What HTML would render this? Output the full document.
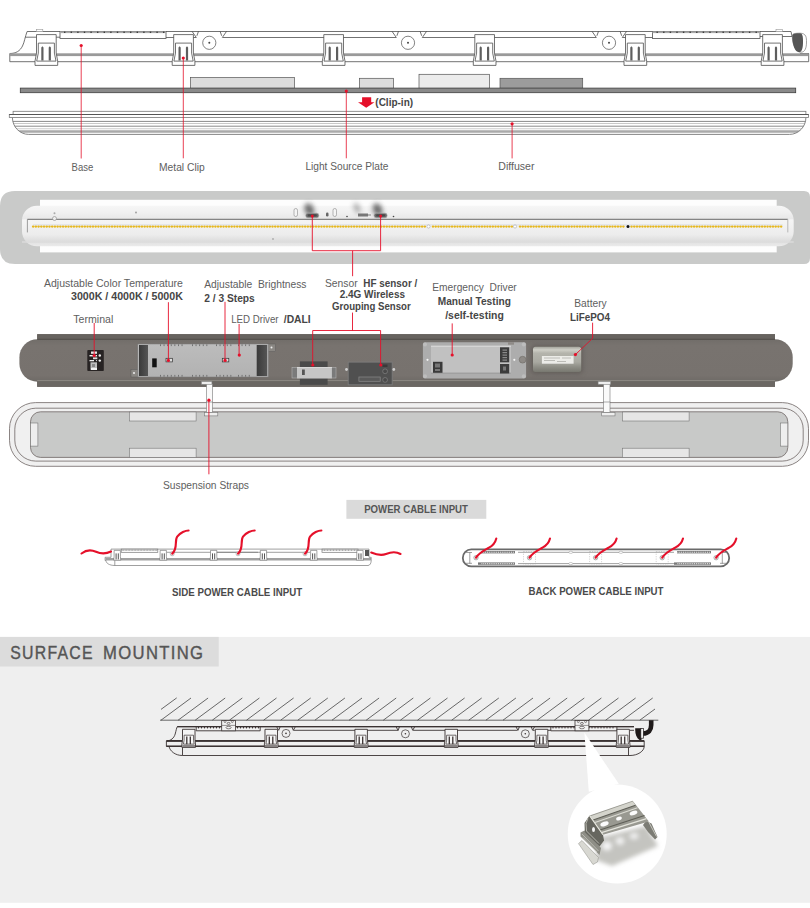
<!DOCTYPE html>
<html><head><meta charset="utf-8"><style>
html,body{margin:0;padding:0;background:#fff;}
body{width:810px;height:908px;overflow:hidden;position:relative;}
svg{position:absolute;left:0;top:0;display:block;}
text{font-family:"Liberation Sans",sans-serif;white-space:pre;}
</style></head><body>
<svg width="810" height="908" viewBox="0 0 810 908">
<g fill="none" stroke="#4e4e4e" stroke-width="0.8">
<path d="M9.8,53.5 C16,53.5 20,51 22.5,46 C24.5,42 25,37 27.1,31.5 H791 L792,36.2"/>
<line x1="25.4" y1="37.2" x2="60" y2="37.2"/>
<path d="M9.8,53.5 V61.7 H808.7 V53.5 H800"/>
</g>
<rect x="10" y="53.3" width="798" height="2.8" fill="#9a9a9a"/>
<rect x="60" y="31.5" width="106" height="7" fill="#fff" stroke="#4e4e4e" stroke-width="0.8"/>
<rect x="60" y="31.3" width="106" height="1.8" fill="#a8a8a8"/>
<rect x="64.0" y="31.6" width="1.4" height="1.3" fill="#333"/>
<rect x="70.6" y="31.6" width="1.4" height="1.3" fill="#333"/>
<rect x="77.2" y="31.6" width="1.4" height="1.3" fill="#333"/>
<rect x="83.8" y="31.6" width="1.4" height="1.3" fill="#333"/>
<rect x="90.4" y="31.6" width="1.4" height="1.3" fill="#333"/>
<rect x="97.0" y="31.6" width="1.4" height="1.3" fill="#333"/>
<rect x="103.6" y="31.6" width="1.4" height="1.3" fill="#333"/>
<rect x="110.2" y="31.6" width="1.4" height="1.3" fill="#333"/>
<rect x="116.8" y="31.6" width="1.4" height="1.3" fill="#333"/>
<rect x="123.4" y="31.6" width="1.4" height="1.3" fill="#333"/>
<rect x="130.0" y="31.6" width="1.4" height="1.3" fill="#333"/>
<rect x="136.6" y="31.6" width="1.4" height="1.3" fill="#333"/>
<rect x="143.2" y="31.6" width="1.4" height="1.3" fill="#333"/>
<rect x="149.8" y="31.6" width="1.4" height="1.3" fill="#333"/>
<rect x="156.4" y="31.6" width="1.4" height="1.3" fill="#333"/>
<rect x="163.0" y="31.6" width="1.4" height="1.3" fill="#333"/>
<rect x="652.5" y="31.5" width="107.5" height="7" fill="#fff" stroke="#4e4e4e" stroke-width="0.8"/>
<rect x="652.5" y="31.3" width="107.5" height="1.8" fill="#a8a8a8"/>
<rect x="656.5" y="31.6" width="1.4" height="1.3" fill="#333"/>
<rect x="663.1" y="31.6" width="1.4" height="1.3" fill="#333"/>
<rect x="669.7" y="31.6" width="1.4" height="1.3" fill="#333"/>
<rect x="676.3" y="31.6" width="1.4" height="1.3" fill="#333"/>
<rect x="682.9" y="31.6" width="1.4" height="1.3" fill="#333"/>
<rect x="689.5" y="31.6" width="1.4" height="1.3" fill="#333"/>
<rect x="696.1" y="31.6" width="1.4" height="1.3" fill="#333"/>
<rect x="702.7" y="31.6" width="1.4" height="1.3" fill="#333"/>
<rect x="709.3" y="31.6" width="1.4" height="1.3" fill="#333"/>
<rect x="715.9" y="31.6" width="1.4" height="1.3" fill="#333"/>
<rect x="722.5" y="31.6" width="1.4" height="1.3" fill="#333"/>
<rect x="729.1" y="31.6" width="1.4" height="1.3" fill="#333"/>
<rect x="735.7" y="31.6" width="1.4" height="1.3" fill="#333"/>
<rect x="742.3" y="31.6" width="1.4" height="1.3" fill="#333"/>
<rect x="748.9" y="31.6" width="1.4" height="1.3" fill="#333"/>
<rect x="755.5" y="31.6" width="1.4" height="1.3" fill="#333"/>
<g fill="none" stroke="#4e4e4e" stroke-width="0.8">
<path d="M166,37.5 H196.3 M222.5,37.5 H396.3 M422.3,37.5 H596.3 M622.3,37.5 H652.5 M760,36.5 H792"/>
<path d="M192.0,31.3 L196.3,37.5 M198.5,31.3 L196.9,35.8 M226.6,31.3 L222.3,37.5 M220.1,31.3 L221.7,35.8"/>
<path d="M392.0,31.3 L396.3,37.5 M398.5,31.3 L396.9,35.8 M426.6,31.3 L422.3,37.5 M420.1,31.3 L421.7,35.8"/>
<path d="M592.0,31.3 L596.3,37.5 M598.5,31.3 L596.9,35.8 M626.6,31.3 L622.3,37.5 M620.1,31.3 L621.7,35.8"/>
</g>
<circle cx="209.3" cy="42.8" r="6.6" fill="#fff" stroke="#4e4e4e" stroke-width="0.7"/><circle cx="209.3" cy="42.8" r="1" fill="#444"/>
<circle cx="408" cy="42.8" r="6.6" fill="#fff" stroke="#4e4e4e" stroke-width="0.7"/><circle cx="408" cy="42.8" r="1" fill="#444"/>
<circle cx="609" cy="42.8" r="6.6" fill="#fff" stroke="#4e4e4e" stroke-width="0.7"/><circle cx="609" cy="42.8" r="1" fill="#444"/>
<rect x="36.5" y="29.6" width="6.3" height="2" fill="#fff" stroke="#999" stroke-width="0.6"/>
<rect x="776" y="29.6" width="6.3" height="2" fill="#fff" stroke="#999" stroke-width="0.6"/>
<path d="M792.3,36 C792.3,33.5 795,33.2 800,33.2 C806.5,33.2 806.5,38 806.5,42 C806.5,48 805,52.2 801,52.2 C796,52.2 792.3,45 792.3,36 Z" fill="#fff" stroke="#777" stroke-width="0.7"/>
<path d="M792.3,36 C792.3,33.5 795,33.2 800,33.2 C803,33.2 803,38 803,42 C803,48 802,52.2 799,52.2 C795,52.2 792.3,45 792.3,36 Z" fill="#555"/>
<g transform="translate(35,34.6) scale(1.0)">
<path d="M1.5,0 H21.2 V18.5 L22.7,26.5 V30.8 H0 V26.5 L1.5,18.5 Z" fill="#fff" stroke="#4e4e4e" stroke-width="0.8"/>
<path d="M3.3,8.5 H19.4 V18.5 L21,26.5 H1.7 L3.3,18.5 Z" fill="#fff" stroke="#4e4e4e" stroke-width="0.8"/>
<path d="M6.3,13 L7.4,11.6 L8.5,13 V26 H6.3 Z M13.7,13 L14.8,11.6 L15.9,13 V26 H13.7 Z" fill="#5e5e5e"/>
</g>
<g transform="translate(172.2,34.6) scale(1.0)">
<path d="M1.5,0 H21.2 V18.5 L22.7,26.5 V30.8 H0 V26.5 L1.5,18.5 Z" fill="#fff" stroke="#4e4e4e" stroke-width="0.8"/>
<path d="M3.3,8.5 H19.4 V18.5 L21,26.5 H1.7 L3.3,18.5 Z" fill="#fff" stroke="#4e4e4e" stroke-width="0.8"/>
<path d="M6.3,13 L7.4,11.6 L8.5,13 V26 H6.3 Z M13.7,13 L14.8,11.6 L15.9,13 V26 H13.7 Z" fill="#5e5e5e"/>
</g>
<g transform="translate(322.3,34.6) scale(1.0)">
<path d="M1.5,0 H21.2 V18.5 L22.7,26.5 V30.8 H0 V26.5 L1.5,18.5 Z" fill="#fff" stroke="#4e4e4e" stroke-width="0.8"/>
<path d="M3.3,8.5 H19.4 V18.5 L21,26.5 H1.7 L3.3,18.5 Z" fill="#fff" stroke="#4e4e4e" stroke-width="0.8"/>
<path d="M6.3,13 L7.4,11.6 L8.5,13 V26 H6.3 Z M13.7,13 L14.8,11.6 L15.9,13 V26 H13.7 Z" fill="#5e5e5e"/>
</g>
<g transform="translate(473.3,34.6) scale(1.0)">
<path d="M1.5,0 H21.2 V18.5 L22.7,26.5 V30.8 H0 V26.5 L1.5,18.5 Z" fill="#fff" stroke="#4e4e4e" stroke-width="0.8"/>
<path d="M3.3,8.5 H19.4 V18.5 L21,26.5 H1.7 L3.3,18.5 Z" fill="#fff" stroke="#4e4e4e" stroke-width="0.8"/>
<path d="M6.3,13 L7.4,11.6 L8.5,13 V26 H6.3 Z M13.7,13 L14.8,11.6 L15.9,13 V26 H13.7 Z" fill="#5e5e5e"/>
</g>
<g transform="translate(624,34.6) scale(1.0)">
<path d="M1.5,0 H21.2 V18.5 L22.7,26.5 V30.8 H0 V26.5 L1.5,18.5 Z" fill="#fff" stroke="#4e4e4e" stroke-width="0.8"/>
<path d="M3.3,8.5 H19.4 V18.5 L21,26.5 H1.7 L3.3,18.5 Z" fill="#fff" stroke="#4e4e4e" stroke-width="0.8"/>
<path d="M6.3,13 L7.4,11.6 L8.5,13 V26 H6.3 Z M13.7,13 L14.8,11.6 L15.9,13 V26 H13.7 Z" fill="#5e5e5e"/>
</g>
<g transform="translate(761.2,34.6) scale(1.0)">
<path d="M1.5,0 H21.2 V18.5 L22.7,26.5 V30.8 H0 V26.5 L1.5,18.5 Z" fill="#fff" stroke="#4e4e4e" stroke-width="0.8"/>
<path d="M3.3,8.5 H19.4 V18.5 L21,26.5 H1.7 L3.3,18.5 Z" fill="#fff" stroke="#4e4e4e" stroke-width="0.8"/>
<path d="M6.3,13 L7.4,11.6 L8.5,13 V26 H6.3 Z M13.7,13 L14.8,11.6 L15.9,13 V26 H13.7 Z" fill="#5e5e5e"/>
</g>
<rect x="190.5" y="77.5" width="103.9" height="10.8" fill="#dcdcdc" stroke="#555" stroke-width="0.7"/>
<rect x="359.4" y="78.3" width="34.1" height="10" fill="#dcdcdc" stroke="#555" stroke-width="0.7"/>
<rect x="419" y="74.3" width="70.4" height="14" fill="#ececec" stroke="#555" stroke-width="0.7"/>
<rect x="500" y="78.3" width="82.7" height="10" fill="#9c9c9c" stroke="#555" stroke-width="0.7"/>
<rect x="20.3" y="88.1" width="775.4" height="4.6" fill="#8a8a8a" stroke="#3e3e3e" stroke-width="0.8"/>
<defs><clipPath id="dfc"><path d="M12.4,117.5 A16.3,16.9 0 0 0 28.7,134.4 H789.5 A16.4,16.9 0 0 0 805.9,117.5 Z"/></clipPath></defs>
<rect x="13.1" y="111.3" width="792.8" height="3.2" fill="#fff" stroke="#777" stroke-width="0.8"/>
<g clip-path="url(#dfc)">
<line x1="10" y1="121.4" x2="808" y2="121.4" stroke="#7a7a7a" stroke-width="0.9"/>
<line x1="10" y1="123.5" x2="808" y2="123.5" stroke="#c8c8c8" stroke-width="1.1"/>
<line x1="10" y1="126.2" x2="808" y2="126.2" stroke="#7a7a7a" stroke-width="0.9"/>
<line x1="10" y1="128.7" x2="808" y2="128.7" stroke="#cccccc" stroke-width="1.1"/>
<line x1="10" y1="131.5" x2="808" y2="131.5" stroke="#a9a9a9" stroke-width="2.4"/>
</g>
<path d="M12.4,117.5 A16.3,16.9 0 0 0 28.7,134.4 H789.5 A16.4,16.9 0 0 0 805.9,117.5" fill="none" stroke="#777" stroke-width="0.9"/>
<rect x="9.3" y="114.5" width="799.2" height="3" fill="#fff" stroke="#777" stroke-width="0.8"/>
<line x1="9.3" y1="114.5" x2="808.5" y2="114.5" stroke="#555" stroke-width="1"/>
<path d="M362.1,97.2 H371.2 V102.2 H374.5 L366.2,107.8 L358,102.2 H362.1 Z" fill="#e5102a"/>
<line x1="81.2" y1="45.5" x2="81.2" y2="158.5" stroke="#e5102a" stroke-width="0.8"/><circle cx="81.2" cy="45.5" r="1.6" fill="#e5102a"/>
<line x1="183.3" y1="58" x2="183.3" y2="158.3" stroke="#e5102a" stroke-width="0.8"/><circle cx="183.3" cy="58" r="1.6" fill="#e5102a"/>
<line x1="346.3" y1="91.1" x2="346.3" y2="158.3" stroke="#e5102a" stroke-width="0.8"/><circle cx="346.3" cy="91.1" r="1.6" fill="#e5102a"/>
<line x1="512.1" y1="123.8" x2="512.1" y2="158.4" stroke="#e5102a" stroke-width="0.8"/><circle cx="512.1" cy="123.8" r="1.6" fill="#e5102a"/>
<defs><linearGradient id="wb" x1="0" y1="0" x2="0" y2="1"><stop offset="0" stop-color="#f6f6f6"/><stop offset="0.15" stop-color="#f1f1f1"/><stop offset="0.32" stop-color="#e8e8e8"/><stop offset="0.35" stop-color="#f5f5f5"/><stop offset="0.72" stop-color="#ececec"/><stop offset="0.86" stop-color="#dedede"/><stop offset="1" stop-color="#ebebeb"/></linearGradient><radialGradient id="smudge"><stop offset="0" stop-color="#333" stop-opacity="0.85"/><stop offset="1" stop-color="#666" stop-opacity="0"/></radialGradient><linearGradient id="hous" x1="0" y1="0" x2="0" y2="1"><stop offset="0" stop-color="#716d69"/><stop offset="0.15" stop-color="#78736f"/><stop offset="0.85" stop-color="#77726e"/><stop offset="1" stop-color="#6e6a66"/></linearGradient><linearGradient id="batt" x1="0" y1="0" x2="0" y2="1"><stop offset="0" stop-color="#a4a49c"/><stop offset="0.12" stop-color="#cfcfc7"/><stop offset="0.25" stop-color="#b4b4ac"/><stop offset="0.6" stop-color="#a9a9a1"/><stop offset="0.8" stop-color="#8e8e86"/><stop offset="1" stop-color="#77776f"/></linearGradient><linearGradient id="drv" x1="0" y1="0" x2="0" y2="1"><stop offset="0" stop-color="#bcbcbc"/><stop offset="1" stop-color="#b2b2b2"/></linearGradient></defs>
<path d="M15,191 H804 Q810,191 810,197 V258 Q810,264 804,264 H15 Q0,264 0,249 V206 Q0,191 15,191 Z" fill="#c9cac9"/>
<rect x="40" y="199.8" width="736.7" height="52.6" fill="#fdfdfd"/>
<rect x="22" y="205.7" width="771.7" height="40.6" rx="15" ry="15" fill="url(#wb)"/>
<rect x="22" y="241" width="771.7" height="2" fill="#dcdcdc" opacity="0.7"/>
<line x1="27.4" y1="219.3" x2="787.8" y2="219.3" stroke="#6a6a6a" stroke-width="1"/>
<line x1="27.4" y1="219.3" x2="27.4" y2="232.4" stroke="#888" stroke-width="0.8"/>
<line x1="787.8" y1="219.3" x2="787.8" y2="232.4" stroke="#aaa" stroke-width="0.8"/>
<line x1="33" y1="224.9" x2="782.6" y2="224.9" stroke="#b9c0cc" stroke-width="0.6" opacity="0.7"/>
<path d="M33.00,226.6h0.3M35.72,226.6h0.3M38.44,226.6h0.3M41.16,226.6h0.3M43.88,226.6h0.3M46.60,226.6h0.3M49.32,226.6h0.3M52.04,226.6h0.3M54.76,226.6h0.3M57.48,226.6h0.3M60.20,226.6h0.3M62.92,226.6h0.3M65.64,226.6h0.3M68.36,226.6h0.3M71.08,226.6h0.3M73.80,226.6h0.3M76.52,226.6h0.3M79.24,226.6h0.3M81.96,226.6h0.3M84.68,226.6h0.3M87.40,226.6h0.3M90.12,226.6h0.3M92.84,226.6h0.3M95.56,226.6h0.3M98.28,226.6h0.3M101.00,226.6h0.3M103.72,226.6h0.3M106.44,226.6h0.3M109.16,226.6h0.3M111.88,226.6h0.3M114.60,226.6h0.3M117.32,226.6h0.3M120.04,226.6h0.3M122.76,226.6h0.3M125.48,226.6h0.3M128.20,226.6h0.3M130.92,226.6h0.3M133.64,226.6h0.3M136.36,226.6h0.3M139.08,226.6h0.3M141.80,226.6h0.3M144.52,226.6h0.3M147.24,226.6h0.3M149.96,226.6h0.3M152.68,226.6h0.3M155.40,226.6h0.3M158.12,226.6h0.3M160.84,226.6h0.3M163.56,226.6h0.3M166.28,226.6h0.3M169.00,226.6h0.3M171.72,226.6h0.3M174.44,226.6h0.3M177.16,226.6h0.3M179.88,226.6h0.3M182.60,226.6h0.3M185.32,226.6h0.3M188.04,226.6h0.3M190.76,226.6h0.3M193.48,226.6h0.3M196.20,226.6h0.3M198.92,226.6h0.3M201.64,226.6h0.3M204.36,226.6h0.3M207.08,226.6h0.3M209.80,226.6h0.3M212.52,226.6h0.3M215.24,226.6h0.3M217.96,226.6h0.3M220.68,226.6h0.3M223.40,226.6h0.3M226.12,226.6h0.3M228.84,226.6h0.3M231.56,226.6h0.3M234.28,226.6h0.3M237.00,226.6h0.3M239.72,226.6h0.3M242.44,226.6h0.3M245.16,226.6h0.3M247.88,226.6h0.3M250.60,226.6h0.3M253.32,226.6h0.3M256.04,226.6h0.3M258.76,226.6h0.3M261.48,226.6h0.3M264.20,226.6h0.3M266.92,226.6h0.3M269.64,226.6h0.3M272.36,226.6h0.3M275.08,226.6h0.3M277.80,226.6h0.3M280.52,226.6h0.3M283.24,226.6h0.3M285.96,226.6h0.3M288.68,226.6h0.3M291.40,226.6h0.3M294.12,226.6h0.3M296.84,226.6h0.3M299.56,226.6h0.3M302.28,226.6h0.3M305.00,226.6h0.3M307.72,226.6h0.3M310.44,226.6h0.3M313.16,226.6h0.3M315.88,226.6h0.3M318.60,226.6h0.3M321.32,226.6h0.3M324.04,226.6h0.3M326.76,226.6h0.3M329.48,226.6h0.3M332.20,226.6h0.3M334.92,226.6h0.3M337.64,226.6h0.3M340.36,226.6h0.3M343.08,226.6h0.3M345.80,226.6h0.3M348.52,226.6h0.3M351.24,226.6h0.3M353.96,226.6h0.3M356.68,226.6h0.3M359.40,226.6h0.3M362.12,226.6h0.3M364.84,226.6h0.3M367.56,226.6h0.3M370.28,226.6h0.3M373.00,226.6h0.3M375.72,226.6h0.3M378.44,226.6h0.3M381.16,226.6h0.3M383.88,226.6h0.3M386.60,226.6h0.3M389.32,226.6h0.3M392.04,226.6h0.3M394.76,226.6h0.3M397.48,226.6h0.3M400.20,226.6h0.3M402.92,226.6h0.3M405.64,226.6h0.3M408.36,226.6h0.3M411.08,226.6h0.3M413.80,226.6h0.3M416.52,226.6h0.3M419.24,226.6h0.3M421.96,226.6h0.3M424.68,226.6h0.3M432.84,226.6h0.3M435.56,226.6h0.3M438.28,226.6h0.3M441.00,226.6h0.3M443.72,226.6h0.3M446.44,226.6h0.3M449.16,226.6h0.3M451.88,226.6h0.3M454.60,226.6h0.3M457.32,226.6h0.3M460.04,226.6h0.3M462.76,226.6h0.3M465.48,226.6h0.3M468.20,226.6h0.3M470.92,226.6h0.3M473.64,226.6h0.3M476.36,226.6h0.3M479.08,226.6h0.3M481.80,226.6h0.3M484.52,226.6h0.3M487.24,226.6h0.3M489.96,226.6h0.3M492.68,226.6h0.3M495.40,226.6h0.3M498.12,226.6h0.3M500.84,226.6h0.3M503.56,226.6h0.3M506.28,226.6h0.3M509.00,226.6h0.3M511.72,226.6h0.3M519.88,226.6h0.3M522.60,226.6h0.3M525.32,226.6h0.3M528.04,226.6h0.3M530.76,226.6h0.3M533.48,226.6h0.3M536.20,226.6h0.3M538.92,226.6h0.3M541.64,226.6h0.3M544.36,226.6h0.3M547.08,226.6h0.3M549.80,226.6h0.3M552.52,226.6h0.3M555.24,226.6h0.3M557.96,226.6h0.3M560.68,226.6h0.3M563.40,226.6h0.3M566.12,226.6h0.3M568.84,226.6h0.3M571.56,226.6h0.3M574.28,226.6h0.3M577.00,226.6h0.3M579.72,226.6h0.3M582.44,226.6h0.3M585.16,226.6h0.3M587.88,226.6h0.3M590.60,226.6h0.3M593.32,226.6h0.3M596.04,226.6h0.3M598.76,226.6h0.3M601.48,226.6h0.3M604.20,226.6h0.3M606.92,226.6h0.3M609.64,226.6h0.3M612.36,226.6h0.3M615.08,226.6h0.3M617.80,226.6h0.3M620.52,226.6h0.3M623.24,226.6h0.3M631.40,226.6h0.3M634.12,226.6h0.3M636.84,226.6h0.3M639.56,226.6h0.3M642.28,226.6h0.3M645.00,226.6h0.3M647.72,226.6h0.3M650.44,226.6h0.3M653.16,226.6h0.3M655.88,226.6h0.3M658.60,226.6h0.3M661.32,226.6h0.3M664.04,226.6h0.3M666.76,226.6h0.3M669.48,226.6h0.3M672.20,226.6h0.3M674.92,226.6h0.3M677.64,226.6h0.3M680.36,226.6h0.3M683.08,226.6h0.3M685.80,226.6h0.3M688.52,226.6h0.3M691.24,226.6h0.3M693.96,226.6h0.3M696.68,226.6h0.3M699.40,226.6h0.3M702.12,226.6h0.3M704.84,226.6h0.3M707.56,226.6h0.3M710.28,226.6h0.3M713.00,226.6h0.3M715.72,226.6h0.3M718.44,226.6h0.3M721.16,226.6h0.3M723.88,226.6h0.3M726.60,226.6h0.3M729.32,226.6h0.3M732.04,226.6h0.3M734.76,226.6h0.3M737.48,226.6h0.3M740.20,226.6h0.3M742.92,226.6h0.3M745.64,226.6h0.3M748.36,226.6h0.3M751.08,226.6h0.3M753.80,226.6h0.3M756.52,226.6h0.3M759.24,226.6h0.3M761.96,226.6h0.3M764.68,226.6h0.3M767.40,226.6h0.3M770.12,226.6h0.3M772.84,226.6h0.3M775.56,226.6h0.3M778.28,226.6h0.3M781.00,226.6h0.3" stroke="#e6b820" stroke-width="2.3" stroke-linecap="round"/>
<circle cx="428.5" cy="226.5" r="1.6" fill="#fff" stroke="#999" stroke-width="0.5"/>
<circle cx="515" cy="226.5" r="1.6" fill="#fff" stroke="#999" stroke-width="0.5"/>
<circle cx="628" cy="226.5" r="1.5" fill="#111"/>
<circle cx="54.5" cy="218.5" r="2" fill="#eee" stroke="#888" stroke-width="0.6"/>
<circle cx="54.5" cy="213.3" r="1" fill="#aaa"/>
<circle cx="136" cy="212.5" r="0.9" fill="#999"/><circle cx="273" cy="239" r="0.9" fill="#aaa"/>
<defs><filter id="sb" x="-100%" y="-100%" width="300%" height="300%"><feGaussianBlur stdDeviation="2.6"/></filter></defs>
<ellipse cx="309.3" cy="209.5" rx="4.5" ry="6.5" transform="rotate(-25 309.3 209.5)" fill="#3a3a3a" opacity="0.75" filter="url(#sb)"/>
<rect x="305.8" y="213.2" width="13" height="4.6" rx="2" fill="#6a6a6a" stroke="#aaa" stroke-width="0.6"/>
<rect x="307.8" y="214.2" width="9" height="2.4" rx="1" fill="#4a4a4a"/>
<ellipse cx="377.6" cy="209.5" rx="4.5" ry="6.5" transform="rotate(-25 377.6 209.5)" fill="#3a3a3a" opacity="0.75" filter="url(#sb)"/>
<rect x="374.1" y="213.2" width="13" height="4.6" rx="2" fill="#6a6a6a" stroke="#aaa" stroke-width="0.6"/>
<rect x="376.1" y="214.2" width="9" height="2.4" rx="1" fill="#4a4a4a"/>
<ellipse cx="357" cy="208" rx="3" ry="5.5" transform="rotate(-25 357 208)" fill="#555" opacity="0.45" filter="url(#sb)"/>
<rect x="294" y="208.5" width="3.5" height="8" rx="1.7" fill="#f4f4f4" stroke="#888" stroke-width="0.6"/>
<rect x="333" y="208.5" width="3.5" height="8" rx="1.7" fill="#f4f4f4" stroke="#888" stroke-width="0.6"/>
<rect x="326" y="212.5" width="2.5" height="4" rx="1.2" fill="#666"/>
<rect x="358" y="213.5" width="10" height="3" fill="#777"/><rect x="368" y="214.2" width="3" height="1.6" fill="#aaa"/>
<circle cx="347" cy="216.5" r="0.8" fill="#444"/><circle cx="393.5" cy="216.5" r="0.8" fill="#444"/>
<path d="M312.3,216 V250.7 H380.6 V216 M352.6,250.7 V276.2" fill="none" stroke="#e5102a" stroke-width="0.9"/>
<circle cx="312.3" cy="216" r="1.5" fill="#e5102a"/><circle cx="380.6" cy="216" r="1.5" fill="#e5102a"/>
<rect x="37.2" y="334.2" width="737.8" height="52.6" fill="#66625e"/>
<rect x="19.4" y="339.2" width="773.3" height="42.5" rx="18" ry="18" fill="url(#hous)"/>
<rect x="37.2" y="334.2" width="737.8" height="4.6" fill="#67635f"/>
<line x1="37.2" y1="339.3" x2="775" y2="339.3" stroke="#56524e" stroke-width="1.2"/>
<rect x="37.2" y="380.9" width="737.8" height="5.9" fill="#6b6763"/>
<line x1="37.2" y1="380.6" x2="775" y2="380.6" stroke="#8e8984" stroke-width="1"/>
<rect x="87.3" y="350.1" width="16.5" height="21" fill="#272323" rx="0.8"/>
<rect x="91" y="351.5" width="6" height="2.3" fill="#e6e6e6"/>
<rect x="89.5" y="355" width="7.5" height="1.4" fill="#f2f2f2"/><circle cx="99.8" cy="355.5" r="1.2" fill="#eee"/>
<rect x="93" y="357.4" width="4.3" height="1.8" fill="#ddd"/>
<rect x="89.5" y="360" width="4.5" height="1.3" fill="#eee"/><circle cx="96.5" cy="360.6" r="0.6" fill="#eee"/><circle cx="99.8" cy="360.6" r="1.2" fill="#eee"/>
<rect x="90.5" y="362.3" width="6.5" height="7.5" fill="#bdbdbd"/><rect x="91" y="368" width="6" height="2" fill="#f4f4f4"/><rect x="92" y="364" width="3" height="3" fill="#8a8a8a"/>
<rect x="131" y="369.5" width="8" height="7.5" fill="#8a8783" stroke="#555" stroke-width="0.4"/><circle cx="134" cy="373" r="1" fill="#eee"/>
<rect x="267.5" y="344" width="8" height="7.5" fill="#8a8783" stroke="#555" stroke-width="0.4"/><circle cx="271.5" cy="347.5" r="1" fill="#eee"/>
<rect x="137.8" y="344" width="130.6" height="33" fill="url(#drv)" stroke="#777" stroke-width="0.5"/>
<defs><linearGradient id="cap" x1="0" y1="0" x2="1" y2="0"><stop offset="0" stop-color="#3a3a3a"/><stop offset="1" stop-color="#555"/></linearGradient></defs>
<rect x="139" y="345" width="9" height="31" fill="url(#cap)"/>
<rect x="256.7" y="345" width="10.5" height="31" fill="url(#cap)"/>
<rect x="152.2" y="358.4" width="4.5" height="8.9" fill="#111"/>
<rect x="166" y="358.3" width="6.5" height="3.6" fill="#ddd" stroke="#333" stroke-width="0.7"/><rect x="222.3" y="358.3" width="6.5" height="3.6" fill="#ddd" stroke="#333" stroke-width="0.7"/>
<rect x="160.0" y="344.3" width="0.9" height="1.8" fill="#6a6a6a"/><rect x="160.0" y="374.9" width="0.9" height="1.8" fill="#6a6a6a"/>
<rect x="163.6" y="344.3" width="0.9" height="1.8" fill="#6a6a6a"/><rect x="163.6" y="374.9" width="0.9" height="1.8" fill="#6a6a6a"/>
<rect x="167.2" y="344.3" width="0.9" height="1.8" fill="#6a6a6a"/><rect x="167.2" y="374.9" width="0.9" height="1.8" fill="#6a6a6a"/>
<rect x="170.8" y="344.3" width="0.9" height="1.8" fill="#6a6a6a"/><rect x="170.8" y="374.9" width="0.9" height="1.8" fill="#6a6a6a"/>
<rect x="174.4" y="344.3" width="0.9" height="1.8" fill="#6a6a6a"/><rect x="174.4" y="374.9" width="0.9" height="1.8" fill="#6a6a6a"/>
<rect x="178.0" y="344.3" width="0.9" height="1.8" fill="#6a6a6a"/><rect x="178.0" y="374.9" width="0.9" height="1.8" fill="#6a6a6a"/>
<rect x="181.6" y="344.3" width="0.9" height="1.8" fill="#6a6a6a"/><rect x="181.6" y="374.9" width="0.9" height="1.8" fill="#6a6a6a"/>
<rect x="192.0" y="344.3" width="0.9" height="1.8" fill="#6a6a6a"/><rect x="192.0" y="374.9" width="0.9" height="1.8" fill="#6a6a6a"/>
<rect x="195.6" y="344.3" width="0.9" height="1.8" fill="#6a6a6a"/><rect x="195.6" y="374.9" width="0.9" height="1.8" fill="#6a6a6a"/>
<rect x="199.2" y="344.3" width="0.9" height="1.8" fill="#6a6a6a"/><rect x="199.2" y="374.9" width="0.9" height="1.8" fill="#6a6a6a"/>
<rect x="202.8" y="344.3" width="0.9" height="1.8" fill="#6a6a6a"/><rect x="202.8" y="374.9" width="0.9" height="1.8" fill="#6a6a6a"/>
<rect x="206.4" y="344.3" width="0.9" height="1.8" fill="#6a6a6a"/><rect x="206.4" y="374.9" width="0.9" height="1.8" fill="#6a6a6a"/>
<rect x="216.0" y="344.3" width="0.9" height="1.8" fill="#6a6a6a"/><rect x="216.0" y="374.9" width="0.9" height="1.8" fill="#6a6a6a"/>
<rect x="219.6" y="344.3" width="0.9" height="1.8" fill="#6a6a6a"/><rect x="219.6" y="374.9" width="0.9" height="1.8" fill="#6a6a6a"/>
<rect x="223.2" y="344.3" width="0.9" height="1.8" fill="#6a6a6a"/><rect x="223.2" y="374.9" width="0.9" height="1.8" fill="#6a6a6a"/>
<rect x="226.8" y="344.3" width="0.9" height="1.8" fill="#6a6a6a"/><rect x="226.8" y="374.9" width="0.9" height="1.8" fill="#6a6a6a"/>
<rect x="230.4" y="344.3" width="0.9" height="1.8" fill="#6a6a6a"/><rect x="230.4" y="374.9" width="0.9" height="1.8" fill="#6a6a6a"/>
<rect x="238.0" y="344.3" width="0.9" height="1.8" fill="#6a6a6a"/><rect x="238.0" y="374.9" width="0.9" height="1.8" fill="#6a6a6a"/>
<rect x="241.6" y="344.3" width="0.9" height="1.8" fill="#6a6a6a"/><rect x="241.6" y="374.9" width="0.9" height="1.8" fill="#6a6a6a"/>
<rect x="245.2" y="344.3" width="0.9" height="1.8" fill="#6a6a6a"/><rect x="245.2" y="374.9" width="0.9" height="1.8" fill="#6a6a6a"/>
<rect x="248.8" y="344.3" width="0.9" height="1.8" fill="#6a6a6a"/><rect x="248.8" y="374.9" width="0.9" height="1.8" fill="#6a6a6a"/>
<rect x="299.9" y="361.4" width="27.7" height="23.4" fill="#4a4a4a"/>
<rect x="292" y="367.5" width="44" height="10.5" fill="#7a7a7a" stroke="#bbb" stroke-width="0.5"/>
<rect x="297" y="367" width="34.9" height="11.4" fill="#c6c6c6"/>
<rect x="297" y="367" width="34.9" height="1" fill="#d8d8d8"/>
<rect x="302" y="369.5" width="2.8" height="5.5" fill="#555"/>
<rect x="348.2" y="362.1" width="44" height="22.7" fill="#505050" stroke="#7c7c7c" stroke-width="0.9"/>
<rect x="358.9" y="377" width="21.3" height="4.3" fill="#5a5a5a" stroke="#8a8a8a" stroke-width="0.7"/>
<circle cx="385.1" cy="371.3" r="2.4" fill="#4a4a4a" stroke="#8a8a8a" stroke-width="0.6"/><circle cx="385.1" cy="379.9" r="2.4" fill="#4a4a4a" stroke="#8a8a8a" stroke-width="0.6"/>
<rect x="382.5" y="364.5" width="5" height="2.5" fill="#3a3a3a"/>
<circle cx="346.5" cy="369.5" r="1.4" fill="#cfcfcf"/><circle cx="393.8" cy="369.5" r="1.4" fill="#cfcfcf"/>
<path d="M425,342.2 H524 Q526.1,342.2 526.1,344.5 V376.2 Q526.1,378.5 524,378.5 H425 Q422.9,378.5 422.9,376.2 V344.5 Q422.9,342.2 425,342.2 Z" fill="#adadad"/>
<rect x="508" y="342.2" width="6" height="2.5" fill="#8f8b87"/>
<rect x="431" y="345.7" width="79.9" height="28.1" fill="#c1c1c1"/>
<rect x="431" y="345.7" width="79.9" height="1.2" fill="#d6d6d6"/>
<rect x="431" y="372.6" width="79.9" height="1.2" fill="#9a9a9a"/>
<rect x="433" y="361.8" width="9.5" height="11" fill="#3a3a3a"/><rect x="435" y="363.5" width="5" height="4" fill="#777"/><rect x="435" y="369" width="5" height="2" fill="#777"/>
<rect x="500" y="347.3" width="9.2" height="15" fill="#3c3c3c"/>
<rect x="502.5" y="349.5" width="4.5" height="1.2" fill="#8a8a8a"/>
<rect x="502.5" y="352" width="4.5" height="1.2" fill="#8a8a8a"/>
<rect x="502.5" y="354.5" width="4.5" height="1.2" fill="#8a8a8a"/>
<rect x="502.5" y="357" width="4.5" height="1.2" fill="#8a8a8a"/>
<rect x="502.5" y="359.5" width="4.5" height="1.2" fill="#8a8a8a"/>
<rect x="500" y="364" width="9.2" height="9.5" fill="#3c3c3c"/><rect x="503" y="366.5" width="3" height="4" fill="#777"/>
<circle cx="522.6" cy="359.7" r="3.4" fill="#8e8a86" stroke="#6f6b67" stroke-width="0.6"/>
<circle cx="427.5" cy="359.8" r="1.1" fill="#f4f4f4"/><circle cx="514.3" cy="359.8" r="1.1" fill="#f4f4f4"/>
<circle cx="425" cy="344.5" r="2" fill="#bdbdbd"/>
<circle cx="523.8" cy="344.5" r="2" fill="#bdbdbd"/>
<circle cx="425" cy="376.2" r="2" fill="#bdbdbd"/>
<circle cx="523.8" cy="376.2" r="2" fill="#bdbdbd"/>
<rect x="531.5" y="345.5" width="51" height="28" rx="3" fill="#4f4b47" opacity="0.55" filter="url(#sb)"/>
<rect x="533" y="346.8" width="48.2" height="25.3" rx="2.5" fill="url(#batt)"/>
<rect x="541.9" y="356" width="31.7" height="7.7" fill="#ecece8"/>
<path d="M544,358 H560 M562,358 H571 M544,360.5 H555 M557,361.5 H566" stroke="#a9a9a4" stroke-width="0.7"/>
<rect x="206.5" y="384" width="5.900000000000006" height="29" fill="#fafafa" stroke="#777" stroke-width="0.6"/>
<rect x="201.5" y="381.5" width="10.400000000000006" height="2.8" fill="#eee" stroke="#888" stroke-width="0.5"/>
<rect x="204.4" y="412.6" width="13.400000000000006" height="3.3" fill="#eee" stroke="#777" stroke-width="0.6"/>
<rect x="603.5" y="384" width="6.5" height="29" fill="#fafafa" stroke="#777" stroke-width="0.6"/>
<rect x="598.1" y="381.5" width="12.5" height="2.8" fill="#eee" stroke="#888" stroke-width="0.5"/>
<rect x="601.7" y="412.6" width="13.299999999999955" height="3.3" fill="#eee" stroke="#777" stroke-width="0.6"/>
<rect x="9.5" y="402.6" width="799" height="63.7" rx="26" ry="26" fill="#f0f0f0" stroke="#6e6664" stroke-width="0.8"/>
<rect x="14.8" y="408.2" width="788.4" height="52.9" rx="21" ry="21" fill="#f0f0f0" stroke="#6e6664" stroke-width="0.8"/>
<rect x="30.5" y="411.8" width="757.3" height="45.6" rx="10" ry="10" fill="#c8c9c8" stroke="#6e6664" stroke-width="0.8"/>
<rect x="129.5" y="412" width="66.6" height="9" fill="#e6e6e6" stroke="#777" stroke-width="0.6"/>
<rect x="129.5" y="448.2" width="66.6" height="9.2" fill="#e6e6e6" stroke="#777" stroke-width="0.6"/>
<rect x="622.4" y="412" width="66.70000000000005" height="9" fill="#e6e6e6" stroke="#777" stroke-width="0.6"/>
<rect x="622.4" y="448.2" width="66.70000000000005" height="9.2" fill="#e6e6e6" stroke="#777" stroke-width="0.6"/>
<rect x="30.5" y="423" width="7.4" height="23.1" fill="#eee" stroke="#777" stroke-width="0.6"/>
<rect x="780.4" y="423" width="7.4" height="23.1" fill="#eee" stroke="#777" stroke-width="0.6"/>
<rect x="206.5" y="402" width="5.9" height="10.6" fill="#fafafa" stroke="#777" stroke-width="0.6"/>
<rect x="204.4" y="412.6" width="13.4" height="3.3" fill="#eee" stroke="#777" stroke-width="0.6"/>
<rect x="603.5" y="402" width="6.5" height="10.6" fill="#fafafa" stroke="#777" stroke-width="0.6"/>
<rect x="601.7" y="412.6" width="13.3" height="3.3" fill="#eee" stroke="#777" stroke-width="0.6"/>
<path d="M94.2,323 V355.6" fill="none" stroke="#e5102a" stroke-width="0.9"/>
<circle cx="94.2" cy="355.6" r="1.6" fill="#e5102a"/>
<path d="M168.4,302.2 V360.4" fill="none" stroke="#e5102a" stroke-width="0.9"/>
<circle cx="168.4" cy="360.4" r="1.6" fill="#e5102a"/>
<path d="M225,301.8 V360.4" fill="none" stroke="#e5102a" stroke-width="0.9"/>
<circle cx="225.1" cy="360.4" r="1.6" fill="#e5102a"/>
<path d="M239.1,324 V355.1" fill="none" stroke="#e5102a" stroke-width="0.9"/>
<circle cx="239.3" cy="355.1" r="1.6" fill="#e5102a"/>
<path d="M352.5,312.6 V330.5 M312.7,365 V330.5 H380.6 V365" fill="none" stroke="#e5102a" stroke-width="0.9"/>
<circle cx="312.8" cy="365" r="1.6" fill="#e5102a"/>
<circle cx="380.8" cy="365" r="1.6" fill="#e5102a"/>
<path d="M452.2,323.4 V355" fill="none" stroke="#e5102a" stroke-width="0.9"/>
<circle cx="452.2" cy="355" r="1.6" fill="#e5102a"/>
<path d="M592.6,322.7 V338.3 L575.4,354.6" fill="none" stroke="#e5102a" stroke-width="0.9"/>
<circle cx="575.4" cy="354.6" r="1.6" fill="#e5102a"/>
<path d="M208.9,400.2 V474.3" fill="none" stroke="#e5102a" stroke-width="0.9"/>
<circle cx="208.9" cy="400.2" r="1.6" fill="#e5102a"/>
<rect x="346.4" y="499.9" width="139.9" height="18.9" fill="#dadada"/>
<g fill="none" stroke="#777" stroke-width="0.7">
<path d="M105.1,557.3 H111 V549.1 H369 V557.3 H371.2 V560.5 H105.1 Z" fill="#fff"/>
<path d="M106,560.5 C106,563 109,565.5 115,565.5 H368 C370,565.5 371.2,563 371.2,560.5" fill="#fff"/>
<line x1="114.8" y1="560.5" x2="114.8" y2="565.5"/>
<rect x="121.2" y="549.1" width="36.6" height="3.2" fill="#fff"/>
<rect x="322" y="549.1" width="36" height="3.2" fill="#fff"/>
<path d="M166.7,552.3 H258 M217,552.3 H310"/>
</g>
<rect x="105.5" y="558.2" width="265.5" height="1.6" fill="#8a8a8a"/>
<path d="M122.2,549.6v1.3M123.7,549.6v1.3M125.2,549.6v1.3M126.7,549.6v1.3M128.2,549.6v1.3M129.7,549.6v1.3M131.2,549.6v1.3M132.7,549.6v1.3M134.2,549.6v1.3M135.7,549.6v1.3M137.2,549.6v1.3M138.7,549.6v1.3M140.2,549.6v1.3M141.7,549.6v1.3M143.2,549.6v1.3M144.7,549.6v1.3M146.2,549.6v1.3M147.7,549.6v1.3M149.2,549.6v1.3M150.7,549.6v1.3M152.2,549.6v1.3M153.7,549.6v1.3M155.2,549.6v1.3M156.7,549.6v1.3" stroke="#666" stroke-width="0.6"/>
<path d="M323.0,549.6v1.3M324.5,549.6v1.3M326.0,549.6v1.3M327.5,549.6v1.3M329.0,549.6v1.3M330.5,549.6v1.3M332.0,549.6v1.3M333.5,549.6v1.3M335.0,549.6v1.3M336.5,549.6v1.3M338.0,549.6v1.3M339.5,549.6v1.3M341.0,549.6v1.3M342.5,549.6v1.3M344.0,549.6v1.3M345.5,549.6v1.3M347.0,549.6v1.3M348.5,549.6v1.3M350.0,549.6v1.3M351.5,549.6v1.3M353.0,549.6v1.3M354.5,549.6v1.3M356.0,549.6v1.3" stroke="#666" stroke-width="0.6"/>
<g transform="translate(113.8,550.4)"><path d="M0.3,0 H6.6 V6 L7,9.8 H-0.1 L0.3,6 Z" fill="#fff" stroke="#666" stroke-width="0.6"/><path d="M2.3,3 V9 M4.5,3 V9" stroke="#555" stroke-width="1"/></g>
<g transform="translate(159.8,550.4)"><path d="M0.3,0 H6.6 V6 L7,9.8 H-0.1 L0.3,6 Z" fill="#fff" stroke="#666" stroke-width="0.6"/><path d="M2.3,3 V9 M4.5,3 V9" stroke="#555" stroke-width="1"/></g>
<g transform="translate(210.2,550.4)"><path d="M0.3,0 H6.6 V6 L7,9.8 H-0.1 L0.3,6 Z" fill="#fff" stroke="#666" stroke-width="0.6"/><path d="M2.3,3 V9 M4.5,3 V9" stroke="#555" stroke-width="1"/></g>
<g transform="translate(260,550.4)"><path d="M0.3,0 H6.6 V6 L7,9.8 H-0.1 L0.3,6 Z" fill="#fff" stroke="#666" stroke-width="0.6"/><path d="M2.3,3 V9 M4.5,3 V9" stroke="#555" stroke-width="1"/></g>
<g transform="translate(310.3,550.4)"><path d="M0.3,0 H6.6 V6 L7,9.8 H-0.1 L0.3,6 Z" fill="#fff" stroke="#666" stroke-width="0.6"/><path d="M2.3,3 V9 M4.5,3 V9" stroke="#555" stroke-width="1"/></g>
<g transform="translate(356.5,550.4)"><path d="M0.3,0 H6.6 V6 L7,9.8 H-0.1 L0.3,6 Z" fill="#fff" stroke="#666" stroke-width="0.6"/><path d="M2.3,3 V9 M4.5,3 V9" stroke="#555" stroke-width="1"/></g>
<rect x="365" y="550" width="4" height="6" fill="#555"/>
<circle cx="172.2" cy="553.8" r="2" fill="#eee" stroke="#888" stroke-width="0.5"/>
<circle cx="238" cy="553.8" r="2" fill="#eee" stroke="#888" stroke-width="0.5"/>
<circle cx="305" cy="553.8" r="2" fill="#eee" stroke="#888" stroke-width="0.5"/>
<g fill="none" stroke="#e5102a" stroke-width="2.1" stroke-linecap="round">
<path d="M81.5,553.5 C86,550 91,549.5 96,551.8 C101,554 106,554 111,551.5"/>
<path d="M371.2,552.5 C377,555 381,556 386,554 C391,552 396,551.5 400.5,554"/>
<path d="M172.2,553.6 C178.2,548.6 174.2,540.6 177.2,536.6 C180.2,532.6 185.6,530.5 188.6,530.5"/>
<path d="M238,553.6 C244,548.6 240,540.6 243,536.6 C246,532.6 251.7,530.5 254.7,530.5"/>
<path d="M305,553.6 C311,548.6 307,540.6 310,536.6 C313,532.6 318.4,530.5 321.4,530.5"/>
</g>
<rect x="462.8" y="549.4" width="266.4" height="17" rx="8.5" ry="8.5" fill="#fff" stroke="#6a6a6a" stroke-width="1.8"/>
<path d="M518,552.3 H674 M518,563.6 H674" stroke="#8a8a8a" stroke-width="0.8" fill="none"/>
<path d="M469.8,552 V563.8 M722.3,552 V563.8 M466,552.5 H472 M466,563.3 H472 M720,552.5 H726 M720,563.3 H726" stroke="#888" stroke-width="0.8" fill="none"/>
<ellipse cx="570.8" cy="552.3" rx="2" ry="1.1" fill="#fff" stroke="#999" stroke-width="0.5"/><ellipse cx="570.8" cy="563.6" rx="2" ry="1.1" fill="#fff" stroke="#999" stroke-width="0.5"/>
<ellipse cx="620.9" cy="552.3" rx="2" ry="1.1" fill="#fff" stroke="#999" stroke-width="0.5"/><ellipse cx="620.9" cy="563.6" rx="2" ry="1.1" fill="#fff" stroke="#999" stroke-width="0.5"/>
<rect x="481" y="551" width="34" height="2.4" fill="#7a7a7a"/>
<rect x="478" y="562.4" width="37" height="2.4" fill="#7a7a7a"/>
<path d="M481.90,551.7v1.1M481.90,563.1v1.1M483.75,551.7v1.1M483.75,563.1v1.1M485.60,551.7v1.1M485.60,563.1v1.1M487.45,551.7v1.1M487.45,563.1v1.1M489.30,551.7v1.1M489.30,563.1v1.1M491.15,551.7v1.1M491.15,563.1v1.1M493.00,551.7v1.1M493.00,563.1v1.1M494.85,551.7v1.1M494.85,563.1v1.1M496.70,551.7v1.1M496.70,563.1v1.1M498.55,551.7v1.1M498.55,563.1v1.1M500.40,551.7v1.1M500.40,563.1v1.1M502.25,551.7v1.1M502.25,563.1v1.1M504.10,551.7v1.1M504.10,563.1v1.1M505.95,551.7v1.1M505.95,563.1v1.1M507.80,551.7v1.1M507.80,563.1v1.1M509.65,551.7v1.1M509.65,563.1v1.1M511.50,551.7v1.1M511.50,563.1v1.1M513.35,551.7v1.1M513.35,563.1v1.1" stroke="#fff" stroke-width="0.8"/>
<rect x="677" y="551" width="34" height="2.4" fill="#7a7a7a"/>
<rect x="674" y="562.4" width="37" height="2.4" fill="#7a7a7a"/>
<path d="M677.90,551.7v1.1M677.90,563.1v1.1M679.75,551.7v1.1M679.75,563.1v1.1M681.60,551.7v1.1M681.60,563.1v1.1M683.45,551.7v1.1M683.45,563.1v1.1M685.30,551.7v1.1M685.30,563.1v1.1M687.15,551.7v1.1M687.15,563.1v1.1M689.00,551.7v1.1M689.00,563.1v1.1M690.85,551.7v1.1M690.85,563.1v1.1M692.70,551.7v1.1M692.70,563.1v1.1M694.55,551.7v1.1M694.55,563.1v1.1M696.40,551.7v1.1M696.40,563.1v1.1M698.25,551.7v1.1M698.25,563.1v1.1M700.10,551.7v1.1M700.10,563.1v1.1M701.95,551.7v1.1M701.95,563.1v1.1M703.80,551.7v1.1M703.80,563.1v1.1M705.65,551.7v1.1M705.65,563.1v1.1M707.50,551.7v1.1M707.50,563.1v1.1M709.35,551.7v1.1M709.35,563.1v1.1" stroke="#fff" stroke-width="0.8"/>
<circle cx="476" cy="557.7" r="2.2" fill="#e6e6e6" stroke="#888" stroke-width="0.6"/>
<circle cx="529.5" cy="557.7" r="2.2" fill="#e6e6e6" stroke="#888" stroke-width="0.6"/>
<circle cx="595.6" cy="557.7" r="2.2" fill="#e6e6e6" stroke="#888" stroke-width="0.6"/>
<circle cx="662.2" cy="557.7" r="2.2" fill="#e6e6e6" stroke="#888" stroke-width="0.6"/>
<circle cx="716.1" cy="557.7" r="2.2" fill="#e6e6e6" stroke="#888" stroke-width="0.6"/>
<rect x="523.5" y="551.5" width="12" height="12.5" fill="none" stroke="#aaa" stroke-width="0.5" stroke-dasharray="1.2,1.2"/>
<rect x="589.6" y="551.5" width="12" height="12.5" fill="none" stroke="#aaa" stroke-width="0.5" stroke-dasharray="1.2,1.2"/>
<rect x="656.2" y="551.5" width="12" height="12.5" fill="none" stroke="#aaa" stroke-width="0.5" stroke-dasharray="1.2,1.2"/>
<g fill="none" stroke="#e5102a" stroke-width="2.1" stroke-linecap="round">
<path d="M476,557.6 C480,551.6 486,549.6 489,547.6 C493,545.6 495.3,542.5 496.3,538.5"/>
<path d="M529.5,557.6 C533.5,551.6 539.5,549.6 542.5,547.6 C546.5,545.6 549,542.5 550,538.5"/>
<path d="M595.6,557.6 C599.6,551.6 605.6,549.6 608.6,547.6 C612.6,545.6 615.6,542.5 616.6,538.5"/>
<path d="M662.2,557.6 C666.2,551.6 672.2,549.6 675.2,547.6 C679.2,545.6 682,542.5 683,538.5"/>
<path d="M716.1,557.6 C720.1,551.6 726.1,549.6 729.1,547.6 C733.1,545.6 735.3,542.5 736.3,538.5"/>
</g>
<rect x="0" y="636.9" width="810" height="265.9" fill="#efefef"/>
<rect x="0" y="636.9" width="218.7" height="29.6" fill="#dcdcdc"/>
<path d="M160,720.2 H658.3M161.0,720.2L191.0,698.0M178.1,720.2L208.1,698.0M195.2,720.2L225.2,698.0M212.3,720.2L242.3,698.0M229.4,720.2L259.4,698.0M246.5,720.2L276.5,698.0M263.6,720.2L293.6,698.0M280.7,720.2L310.7,698.0M297.8,720.2L327.8,698.0M314.9,720.2L344.9,698.0M332.0,720.2L362.0,698.0M349.1,720.2L379.1,698.0M366.2,720.2L396.2,698.0M383.3,720.2L413.3,698.0M400.4,720.2L430.4,698.0M417.5,720.2L447.5,698.0M434.6,720.2L464.6,698.0M451.7,720.2L481.7,698.0M468.8,720.2L498.8,698.0M485.9,720.2L515.9,698.0M503.0,720.2L533.0,698.0M520.1,720.2L550.1,698.0M537.2,720.2L567.2,698.0M554.3,720.2L584.3,698.0M571.4,720.2L601.4,698.0M588.5,720.2L618.5,698.0M605.6,720.2L635.6,698.0M622.7,720.2L652.7,698.0M639.8,720.2L655.0,709.0M161,709.4L176.7,697.9" stroke="#444" stroke-width="0.8" fill="none"/>
<g fill="none" stroke="#3a3232" stroke-width="0.9">
<path d="M166.4,740.9 C171,740.9 174,738 175.2,734 C176,731 176.5,728 177.3,726.7 H634"/>
<path d="M166.4,740.9 V746.4 H644.2 V740.9 H632"/>
<path d="M169,746.4 C170,751 175,755.5 182.5,755.5 H630 C638,755.5 644.2,751 644.2,746.4"/>
<line x1="182.5" y1="746.4" x2="182.5" y2="755.5"/><line x1="628.5" y1="746.4" x2="628.5" y2="755.5"/>
<path d="M196.2,726.7 V730.8 H260.2 V726.7 M550.8,726.7 V730.8 H616.9 V726.7"/>
<path d="M293.5,730.3 H398.3 M413.1,730.3 H517.5 M533,730.3 H534.7 M548,730.3 H550.8 M630,730.3 H634"/>
<path d="M276.8,727 L278.7,730.3 L280.0,727 M295.2,727 L293.3,730.3 L292.0,727"/>
<path d="M396.2,727 L398.1,730.3 L399.4,727 M414.6,727 L412.7,730.3 L411.4,727"/>
<path d="M516.1,727 L518.0,730.3 L519.3,727 M534.5,727 L532.6,730.3 L531.3,727"/>
</g>
<rect x="166.4" y="740" width="477.8" height="1.9" fill="#3a3232"/>
<line x1="166.4" y1="746.2" x2="644.2" y2="746.2" stroke="#3a3232" stroke-width="1.4"/>
<line x1="177.3" y1="726.7" x2="634" y2="726.7" stroke="#3a3232" stroke-width="1.3"/>
<path d="M198.5,727v1.4M201.5,727v1.4M204.5,727v1.4M207.5,727v1.4M210.5,727v1.4M213.5,727v1.4M216.5,727v1.4M219.5,727v1.4M222.5,727v1.4M225.5,727v1.4M228.5,727v1.4M231.5,727v1.4M234.5,727v1.4M237.5,727v1.4M240.5,727v1.4M243.5,727v1.4M246.5,727v1.4M249.5,727v1.4M252.5,727v1.4M255.5,727v1.4M258.5,727v1.4" stroke="#3a3232" stroke-width="1"/>
<path d="M553.0,727v1.4M556.0,727v1.4M559.0,727v1.4M562.0,727v1.4M565.0,727v1.4M568.0,727v1.4M571.0,727v1.4M574.0,727v1.4M577.0,727v1.4M580.0,727v1.4M583.0,727v1.4M586.0,727v1.4M589.0,727v1.4M592.0,727v1.4M595.0,727v1.4M598.0,727v1.4M601.0,727v1.4M604.0,727v1.4M607.0,727v1.4M610.0,727v1.4M613.0,727v1.4" stroke="#3a3232" stroke-width="1"/>
<circle cx="286" cy="733.4" r="4" fill="none" stroke="#3a3232" stroke-width="0.7"/><circle cx="286" cy="733.4" r="0.8" fill="#3a3232"/>
<circle cx="405.4" cy="733.8" r="4" fill="none" stroke="#3a3232" stroke-width="0.7"/><circle cx="405.4" cy="733.8" r="0.8" fill="#3a3232"/>
<circle cx="525.3" cy="733.8" r="4" fill="none" stroke="#3a3232" stroke-width="0.7"/><circle cx="525.3" cy="733.8" r="0.8" fill="#3a3232"/>
<g transform="translate(181.9,729.3)"><path d="M0.6,0 H13.1 V11 L13.6,14.6 V18.1 H0 V14.6 L0.6,11 Z" fill="#f4f4f4" stroke="#3a3232" stroke-width="0.9"/><path d="M2.2,5.9 H11.6 V11 L12.3,14.8 H1.5 L2.2,11 Z" fill="#f7f7f7" stroke="#3a3232" stroke-width="0.7"/><path d="M4.9,7.2 V15 M8.4,7.2 V15" stroke="#3a3232" stroke-width="1.3"/><rect x="0.5" y="15.5" width="12.6" height="2.2" fill="#8a8585"/></g>
<g transform="translate(264.4,729.3)"><path d="M0.6,0 H13.1 V11 L13.6,14.6 V18.1 H0 V14.6 L0.6,11 Z" fill="#f4f4f4" stroke="#3a3232" stroke-width="0.9"/><path d="M2.2,5.9 H11.6 V11 L12.3,14.8 H1.5 L2.2,11 Z" fill="#f7f7f7" stroke="#3a3232" stroke-width="0.7"/><path d="M4.9,7.2 V15 M8.4,7.2 V15" stroke="#3a3232" stroke-width="1.3"/><rect x="0.5" y="15.5" width="12.6" height="2.2" fill="#8a8585"/></g>
<g transform="translate(354.3,729.3)"><path d="M0.6,0 H13.1 V11 L13.6,14.6 V18.1 H0 V14.6 L0.6,11 Z" fill="#f4f4f4" stroke="#3a3232" stroke-width="0.9"/><path d="M2.2,5.9 H11.6 V11 L12.3,14.8 H1.5 L2.2,11 Z" fill="#f7f7f7" stroke="#3a3232" stroke-width="0.7"/><path d="M4.9,7.2 V15 M8.4,7.2 V15" stroke="#3a3232" stroke-width="1.3"/><rect x="0.5" y="15.5" width="12.6" height="2.2" fill="#8a8585"/></g>
<g transform="translate(444.4,729.3)"><path d="M0.6,0 H13.1 V11 L13.6,14.6 V18.1 H0 V14.6 L0.6,11 Z" fill="#f4f4f4" stroke="#3a3232" stroke-width="0.9"/><path d="M2.2,5.9 H11.6 V11 L12.3,14.8 H1.5 L2.2,11 Z" fill="#f7f7f7" stroke="#3a3232" stroke-width="0.7"/><path d="M4.9,7.2 V15 M8.4,7.2 V15" stroke="#3a3232" stroke-width="1.3"/><rect x="0.5" y="15.5" width="12.6" height="2.2" fill="#8a8585"/></g>
<g transform="translate(534.7,729.3)"><path d="M0.6,0 H13.1 V11 L13.6,14.6 V18.1 H0 V14.6 L0.6,11 Z" fill="#f4f4f4" stroke="#3a3232" stroke-width="0.9"/><path d="M2.2,5.9 H11.6 V11 L12.3,14.8 H1.5 L2.2,11 Z" fill="#f7f7f7" stroke="#3a3232" stroke-width="0.7"/><path d="M4.9,7.2 V15 M8.4,7.2 V15" stroke="#3a3232" stroke-width="1.3"/><rect x="0.5" y="15.5" width="12.6" height="2.2" fill="#8a8585"/></g>
<g transform="translate(616.3,729.3)"><path d="M0.6,0 H13.1 V11 L13.6,14.6 V18.1 H0 V14.6 L0.6,11 Z" fill="#f4f4f4" stroke="#3a3232" stroke-width="0.9"/><path d="M2.2,5.9 H11.6 V11 L12.3,14.8 H1.5 L2.2,11 Z" fill="#f7f7f7" stroke="#3a3232" stroke-width="0.7"/><path d="M4.9,7.2 V15 M8.4,7.2 V15" stroke="#3a3232" stroke-width="1.3"/><rect x="0.5" y="15.5" width="12.6" height="2.2" fill="#8a8585"/></g>
<rect x="221.7" y="720.4" width="13.9" height="10.4" fill="#f2f2f2" stroke="#3a3232" stroke-width="0.8"/><circle cx="225.0" cy="721.6" r="1" fill="none" stroke="#3a3232" stroke-width="0.5"/><circle cx="232.29999999999998" cy="721.6" r="1" fill="none" stroke="#3a3232" stroke-width="0.5"/><ellipse cx="228.6" cy="723.4" rx="1.5" ry="1" fill="none" stroke="#3a3232" stroke-width="0.6"/><ellipse cx="228.6" cy="727.6" rx="2.6" ry="1.2" fill="none" stroke="#3a3232" stroke-width="0.6"/><line x1="221.7" y1="725.4" x2="235.6" y2="725.4" stroke="#3a3232" stroke-width="0.5"/>
<rect x="575" y="720.4" width="13.9" height="10.4" fill="#f2f2f2" stroke="#3a3232" stroke-width="0.8"/><circle cx="578.3" cy="721.6" r="1" fill="none" stroke="#3a3232" stroke-width="0.5"/><circle cx="585.6" cy="721.6" r="1" fill="none" stroke="#3a3232" stroke-width="0.5"/><ellipse cx="581.9" cy="723.4" rx="1.5" ry="1" fill="none" stroke="#3a3232" stroke-width="0.6"/><ellipse cx="581.9" cy="727.6" rx="2.6" ry="1.2" fill="none" stroke="#3a3232" stroke-width="0.6"/><line x1="575" y1="725.4" x2="588.9" y2="725.4" stroke="#3a3232" stroke-width="0.5"/>
<path d="M643,733.5 C648.5,733.5 651.2,730 651.2,725 V720.2" fill="none" stroke="#1f1a1a" stroke-width="4.6"/>
<path d="M635.2,728.2 H641.5 V740 H639.5 C636.5,738 635.2,734 635.2,730 Z" fill="#1f1a1a"/>
<rect x="640.8" y="728.6" width="2.6" height="9.6" fill="#f4f4f4" stroke="#1f1a1a" stroke-width="0.7"/>
<path d="M584.4,732.6 L588.8,791.7 L618.8,783.8 Z" fill="#fff"/>
<circle cx="617.2" cy="834" r="49.5" fill="#fff"/>
<defs><linearGradient id="met" x1="0" y1="0" x2="1" y2="1"><stop offset="0" stop-color="#e8e8e4"/><stop offset="0.4" stop-color="#9a9a94"/><stop offset="0.7" stop-color="#c9c9c4"/><stop offset="1" stop-color="#77776f"/></linearGradient><linearGradient id="met2" x1="0" y1="0" x2="0" y2="1"><stop offset="0" stop-color="#c8c8c2"/><stop offset="1" stop-color="#6d6d66"/></linearGradient><radialGradient id="shd"><stop offset="0" stop-color="#bdbdbd" stop-opacity="0.7"/><stop offset="1" stop-color="#fff" stop-opacity="0"/></radialGradient></defs>
<defs><filter id="blur1" x="-50%" y="-50%" width="200%" height="200%"><feGaussianBlur stdDeviation="2.2"/></filter><filter id="blur05"><feGaussianBlur stdDeviation="0.5"/></filter></defs>
<path d="M598,838 L646,826 L658,846 L612,866 L596,860 Z" fill="#c4c4c0" filter="url(#blur1)"/>
<ellipse cx="607" cy="846" rx="5" ry="4.5" fill="#f4f4f4" filter="url(#blur1)"/><ellipse cx="620" cy="841" rx="4.5" ry="4" fill="#efefef" filter="url(#blur1)"/><ellipse cx="634" cy="836" rx="4.5" ry="3.5" fill="#ececec" filter="url(#blur1)"/>
<g filter="url(#blur05)">
<path d="M646,821 L651.5,823.5 L657.5,837 L655,839.5 L648,832 L643,825 Z" fill="#7c7c74"/>
<path d="M649,822.5 L656.5,836.5" fill="none" stroke="#d0d0c8" stroke-width="0.9"/>
<path d="M578.5,843.6 L582,840.5 L598.5,857.5 L597.5,862 L593,864.5 Z" fill="#d8d8d2" stroke="#8a8a84" stroke-width="0.5"/>
<path d="M580.5,832.5 L584.5,830.5 L601,848 L599.5,855 L596,851.5 L580.5,836.5 Z" fill="#8e8e86"/>
<path d="M582,834 L598.5,851 M583,837.5 L597,852" stroke="#cfcfc7" stroke-width="0.7"/>
<path d="M589.6,815.6 L584.5,823 L584.8,832 L599.5,846.5 L604,840.5 L603,834.8 Z" fill="#66665e"/>
<path d="M588,818.5 L586,823.5 L586.5,831 L599,843.5" fill="none" stroke="#bdbdb5" stroke-width="0.9"/>
<ellipse cx="593.5" cy="829.5" rx="1.5" ry="2.5" fill="#f4f4f4"/>
<path d="M589.6,815.6 L632.6,800.7 L648.9,821.5 L603,834.8 Z" fill="#999991"/>
<path d="M590.5,816.3 L632.8,801.6 L635.5,805.3 L593.2,820 Z" fill="#d4d4cc"/>
<path d="M593.2,820 L635.5,805.3" stroke="#5f5f57" stroke-width="1.1"/>
<path d="M595,822.6 L637.5,807.8" stroke="#dcdcd4" stroke-width="1.1"/>
<path d="M600,830 L644.5,815.5" stroke="#5f5f57" stroke-width="1.1"/>
<path d="M601.5,832.6 L646.5,818.6" stroke="#e4e4dc" stroke-width="1.3"/>
<path d="M589.6,815.6 L603,834.8" stroke="#e8e8e0" stroke-width="1.1"/>
</g>
<ellipse cx="604.5" cy="823.8" rx="4.3" ry="2.2" transform="rotate(-18 604.5 823.8)" fill="#fcfcfc"/>
<ellipse cx="619" cy="818.5" rx="2.9" ry="1.9" transform="rotate(-18 619 818.5)" fill="#fcfcfc"/>
<ellipse cx="633.5" cy="813" rx="4" ry="2.1" transform="rotate(-18 633.5 813)" fill="#fcfcfc"/>
<text x="71.6" y="170.8" font-size="10.3" font-weight="normal" fill="#5e5e5e" textLength="21.7" lengthAdjust="spacingAndGlyphs" >Base</text>
<text x="159" y="171" font-size="10.3" font-weight="normal" fill="#5e5e5e" textLength="45.7" lengthAdjust="spacingAndGlyphs" >Metal Clip</text>
<text x="305.4" y="169.6" font-size="10.3" font-weight="normal" fill="#5e5e5e" textLength="83" lengthAdjust="spacingAndGlyphs" >Light Source Plate</text>
<text x="498.3" y="170.4" font-size="10.3" font-weight="normal" fill="#5e5e5e" textLength="36.2" lengthAdjust="spacingAndGlyphs" >Diffuser</text>
<text x="375.3" y="105.8" font-size="10.2" font-weight="bold" fill="#464646" textLength="37.8" lengthAdjust="spacingAndGlyphs" >(Clip-in)</text>
<text x="44" y="286.7" font-size="11" font-weight="normal" fill="#5e5e5e" textLength="138.9" lengthAdjust="spacingAndGlyphs" >Adjustable Color Temperature</text>
<text x="71" y="300" font-size="10.8" font-weight="bold" fill="#464646" textLength="111.9" lengthAdjust="spacingAndGlyphs" >3000K / 4000K / 5000K</text>
<text x="73.3" y="322.9" font-size="11" font-weight="normal" fill="#5e5e5e" textLength="40" lengthAdjust="spacingAndGlyphs" >Terminal</text>
<text x="204.2" y="287.6" font-size="11" font-weight="normal" fill="#5e5e5e" textLength="102.3" lengthAdjust="spacingAndGlyphs" >Adjustable  Brightness</text>
<text x="204.2" y="301.8" font-size="10.8" font-weight="bold" fill="#464646" textLength="50.6" lengthAdjust="spacingAndGlyphs" >2 / 3 Steps</text>
<text x="231.2" y="323.4" font-size="11" font-weight="normal" fill="#5e5e5e" textLength="47.4" lengthAdjust="spacingAndGlyphs" >LED Driver</text>
<text x="283.8" y="323.4" font-size="10.8" font-weight="bold" fill="#464646" textLength="26.9" lengthAdjust="spacingAndGlyphs" >/DALI</text>
<text x="325" y="287" font-size="11" font-weight="normal" fill="#5e5e5e" textLength="32.6" lengthAdjust="spacingAndGlyphs" >Sensor</text>
<text x="363.3" y="287" font-size="10.8" font-weight="bold" fill="#464646" textLength="54" lengthAdjust="spacingAndGlyphs" >HF sensor /</text>
<text x="339.7" y="298.4" font-size="10.8" font-weight="bold" fill="#464646" textLength="65.3" lengthAdjust="spacingAndGlyphs" >2.4G Wireless</text>
<text x="332" y="309.8" font-size="10.8" font-weight="bold" fill="#464646" textLength="78.7" lengthAdjust="spacingAndGlyphs" >Grouping Sensor</text>
<text x="432.3" y="291.3" font-size="11" font-weight="normal" fill="#5e5e5e" textLength="84.4" lengthAdjust="spacingAndGlyphs" >Emergency  Driver</text>
<text x="437.7" y="305.3" font-size="10.8" font-weight="bold" fill="#464646" textLength="73.2" lengthAdjust="spacingAndGlyphs" >Manual Testing</text>
<text x="445.2" y="318.7" font-size="10.8" font-weight="bold" fill="#464646" textLength="58.6" lengthAdjust="spacingAndGlyphs" >/self-testing</text>
<text x="574.3" y="306.7" font-size="11" font-weight="normal" fill="#5e5e5e" textLength="32.4" lengthAdjust="spacingAndGlyphs" >Battery</text>
<text x="570" y="320.7" font-size="10.8" font-weight="bold" fill="#464646" textLength="40" lengthAdjust="spacingAndGlyphs" >LiFePO4</text>
<text x="163" y="489" font-size="11" font-weight="normal" fill="#5e5e5e" textLength="86" lengthAdjust="spacingAndGlyphs" >Suspension Straps</text>
<text x="364.2" y="513.1" font-size="10.8" font-weight="bold" fill="#555" textLength="103.7" lengthAdjust="spacingAndGlyphs" >POWER CABLE INPUT</text>
<text x="172" y="595.6" font-size="10.5" font-weight="bold" fill="#4a4a4a" textLength="130.2" lengthAdjust="spacingAndGlyphs" >SIDE POWER CABLE INPUT</text>
<text x="528.5" y="595.1" font-size="10.5" font-weight="bold" fill="#4a4a4a" textLength="135" lengthAdjust="spacingAndGlyphs" >BACK POWER CABLE INPUT</text>
<text x="10.2" y="659" font-size="18.6" font-weight="normal" fill="#555" textLength="83.7" lengthAdjust="spacingAndGlyphs" stroke="#555" stroke-width="0.4" letter-spacing="1.5">SURFACE</text>
<text x="103.1" y="659" font-size="18.6" font-weight="normal" fill="#555" textLength="101.3" lengthAdjust="spacingAndGlyphs" stroke="#555" stroke-width="0.4" letter-spacing="1.5">MOUNTING</text>
</svg>
</body></html>
